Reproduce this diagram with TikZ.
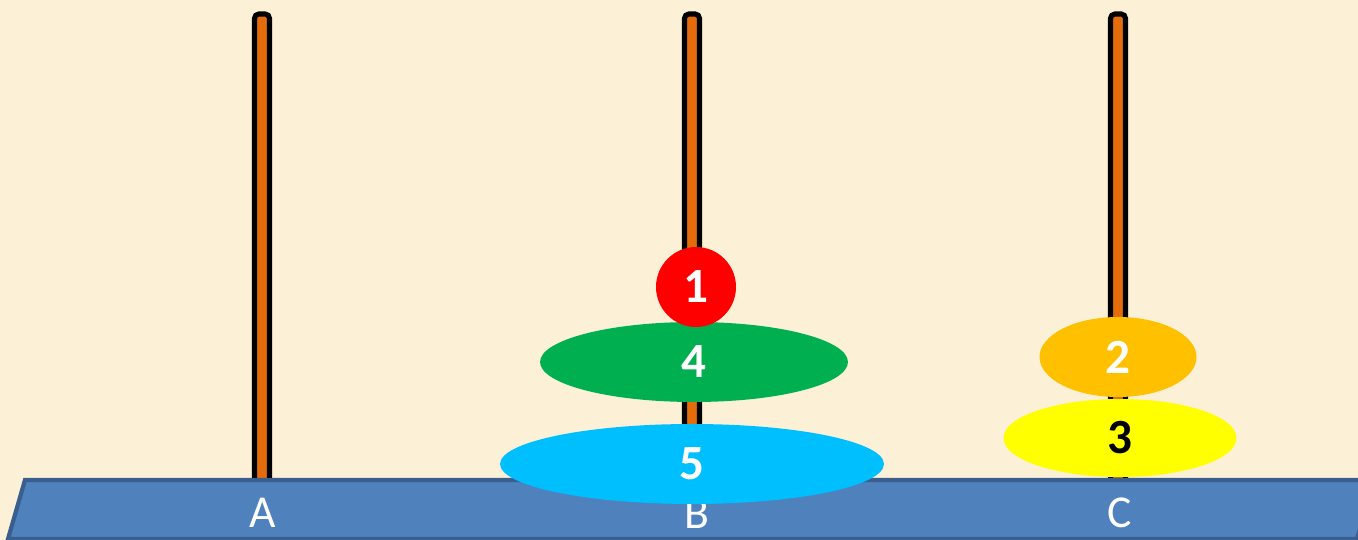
\documentclass[tikz,border=0pt]{standalone}
\usepackage{fontspec}
\setmainfont{Carlito}
\usepackage{tikz}
\usetikzlibrary{shapes.geometric}
\definecolor{paper}{HTML}{FCF0D7}
\definecolor{polefill}{HTML}{E46C0A}
\definecolor{basefill}{HTML}{4F81BD}
\definecolor{baseline}{HTML}{3A5F8E}
\definecolor{discred}{HTML}{FF0000}
\definecolor{discorange}{HTML}{FFC000}
\definecolor{discyellow}{HTML}{FFFF00}
\definecolor{discgreen}{HTML}{00B050}
\definecolor{disccyan}{HTML}{00BFFF}

\begin{document}
\begin{tikzpicture}[
    x=0.02cm, y=-0.02cm,
    pole/.style={draw=black, line width=2.9pt, fill=polefill, rounded corners=2.5pt},
    disc/.style={ellipse, inner sep=0pt, minimum height=1.6cm, fill=#1, text=white, font=\fontsize{28}{30}\selectfont\bfseries},
    disc/.default={discgreen},
    peg/.style={text=white, font=\fontsize{26}{28}\selectfont}
]
% Background
\useasboundingbox (0,0) rectangle (1358,540);
\clip (0,0) rectangle (1358,540);
\fill[paper] (0,0) rectangle (1358,540);

% Poles
\draw[pole] (254.5,14) rectangle (269.5,485);
\draw[pole] (684.5,14) rectangle (699.5,485);
\draw[pole] (1110.5,14) rectangle (1125.5,485);

% Base
\filldraw[fill=basefill, draw=baseline, line width=2.4pt]
    (25,480) -- (1374,480) -- (1357,539) -- (8,539) -- cycle;
\node[peg] (pegA) at (263,513) {A};
\node[peg] (pegB) at (697,514) {B};
\node[peg] (pegC) at (1120,513) {C};

% Discs on B
\node[disc=disccyan, minimum width=7.68cm] (d5) at (692,464) {5};
\node[disc=discgreen, minimum width=6.16cm] (d4) at (694,362) {4};
\node[disc=discred, circle, minimum size=1.6cm] (d1) at (696,287) {1};

% Discs on C
\node[disc=discyellow, minimum width=4.66cm, minimum height=1.56cm, text=black] (d3) at (1120,438) {3};
\node[disc=discorange, minimum width=3.14cm] (d2) at (1118,357) {2};

\end{tikzpicture}
\end{document}
